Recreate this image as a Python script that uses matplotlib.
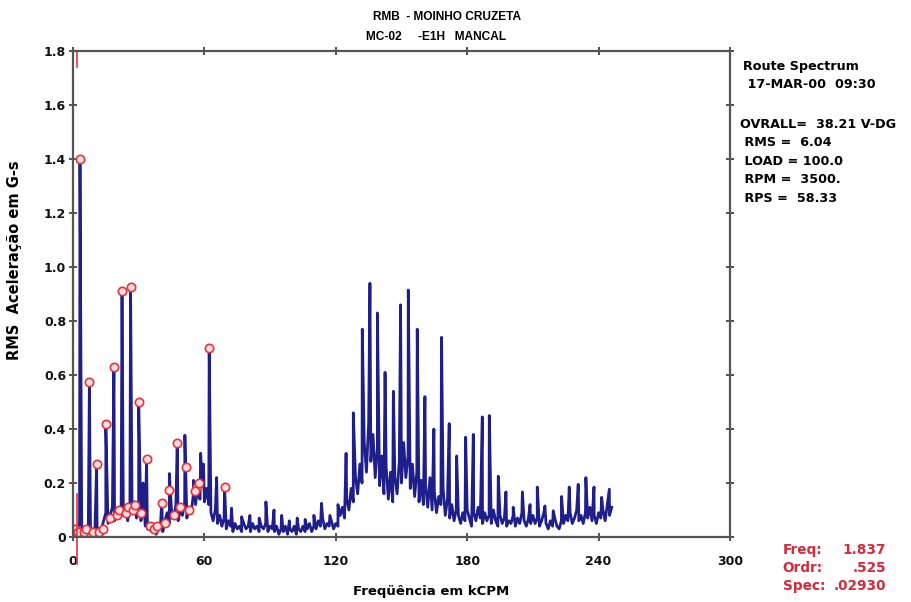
import numpy as np
import matplotlib
matplotlib.use("Agg")
import matplotlib.pyplot as plt

plt.rcParams['font.family'] = ['DejaVu Sans']
plt.rcParams['font.weight'] = 'bold'

# floor of the spectrum, one value per kCPM bin (0 .. 246)
floor_freq = np.arange(0, 247, 1.0)
floor_amp = [
    0.00, 0.04, 0.03, 0.05, 0.02, 0.03, 0.01, 0.04, 0.02, 0.03,
    0.02, 0.04, 0.01, 0.03, 0.06, 0.09, 0.05, 0.08, 0.11, 0.06,
    0.10, 0.07, 0.12, 0.08, 0.11, 0.06, 0.12, 0.09, 0.13, 0.07,
    0.11, 0.06, 0.09, 0.04, 0.03, 0.05, 0.02, 0.04, 0.01, 0.03,
    0.05, 0.02, 0.06, 0.09, 0.05, 0.10, 0.07, 0.12, 0.06, 0.10,
    0.08, 0.13, 0.07, 0.11, 0.09, 0.16, 0.12, 0.19, 0.14, 0.20,
    0.13, 0.18, 0.12, 0.09, 0.06, 0.10, 0.05, 0.08, 0.04, 0.07,
    0.03, 0.06, 0.04, 0.02, 0.05, 0.03, 0.04, 0.02, 0.05, 0.03,
    0.04, 0.02, 0.05, 0.03, 0.04, 0.02, 0.04, 0.03, 0.05, 0.02,
    0.04, 0.03, 0.02, 0.04, 0.01, 0.03, 0.02, 0.04, 0.01, 0.03,
    0.02, 0.04, 0.01, 0.03, 0.02, 0.04, 0.02, 0.03, 0.05, 0.02,
    0.04, 0.03, 0.06, 0.04, 0.07, 0.03, 0.05, 0.04, 0.06, 0.03,
    0.05, 0.04, 0.08, 0.11, 0.07, 0.14, 0.10, 0.18, 0.13, 0.22,
    0.16, 0.27, 0.20, 0.35, 0.24, 0.42, 0.28, 0.38, 0.22, 0.33,
    0.19, 0.30, 0.16, 0.26, 0.14, 0.24, 0.13, 0.22, 0.16, 0.28,
    0.20, 0.35, 0.22, 0.30, 0.18, 0.27, 0.15, 0.24, 0.13, 0.21,
    0.12, 0.19, 0.11, 0.22, 0.10, 0.17, 0.09, 0.15, 0.12, 0.18,
    0.08, 0.14, 0.07, 0.12, 0.06, 0.10, 0.08, 0.05, 0.09, 0.06,
    0.10, 0.07, 0.04, 0.09, 0.06, 0.11, 0.07, 0.05, 0.09, 0.06,
    0.08, 0.05, 0.10, 0.06, 0.04, 0.08, 0.05, 0.07, 0.04, 0.06,
    0.05, 0.08, 0.04, 0.07, 0.05, 0.09, 0.06, 0.04, 0.07, 0.05,
    0.08, 0.05, 0.07, 0.04, 0.06, 0.09, 0.05, 0.03, 0.06, 0.04,
    0.07, 0.04, 0.03, 0.06, 0.05, 0.08, 0.06, 0.09, 0.05, 0.07,
    0.10, 0.06, 0.08, 0.05, 0.09, 0.07, 0.11, 0.06, 0.08, 0.05,
    0.09, 0.07, 0.10, 0.06, 0.12, 0.08, 0.11,
]

# spectral peaks (kCPM, G-s)
peak_freq = [
    3.2, 7.5, 10.8, 15.0, 18.7, 22.4, 26.3, 30.0, 32.0, 33.6,
    40.5, 44.0, 47.6, 51.1, 55.0, 58.3, 59.6, 62.2, 65.6, 69.2,
    72.4, 77.0, 80.8, 85.0, 88.1, 91.8, 95.3, 98.8, 102.4, 106.0,
    110.0, 113.5, 117.3, 121.0, 124.7, 128.0, 132.1, 135.6, 139.0, 142.5,
    146.3, 149.6, 153.1, 157.2, 160.7, 164.8, 168.3, 171.8, 175.2, 179.3,
    182.8, 186.9, 190.1, 194.2, 197.7, 201.0, 205.2, 208.7, 212.0, 215.5,
    219.3, 223.1, 226.6, 230.7, 234.2, 237.9, 241.4, 244.9,
]
peak_amp = [
    1.40, 0.575, 0.27, 0.42, 0.63, 0.91, 0.925, 0.50, 0.20, 0.29,
    0.13, 0.235, 0.35, 0.377, 0.21, 0.31, 0.27, 0.70, 0.22, 0.19,
    0.107, 0.075, 0.08, 0.07, 0.13, 0.10, 0.08, 0.06, 0.07, 0.065,
    0.08, 0.125, 0.08, 0.12, 0.31, 0.46, 0.77, 0.94, 0.83, 0.61,
    0.54, 0.86, 0.915, 0.77, 0.52, 0.40, 0.74, 0.42, 0.30, 0.37,
    0.38, 0.445, 0.45, 0.225, 0.167, 0.11, 0.167, 0.12, 0.185, 0.115,
    0.097, 0.15, 0.185, 0.195, 0.22, 0.185, 0.147, 0.177,
]

# peak markers placed by the analyzer
mark_freq = [
    3.2, 7.5, 10.8, 15.0, 18.7, 22.4, 26.3, 30.0, 33.6, 47.6,
    51.6, 62.2, 69.2, 40.5, 43.8, 56.7,
    1.0, 2.5, 5.0, 6.0, 9.0, 12.0, 13.5, 17.0, 20.0, 21.0,
    24.0, 25.0, 27.5, 28.5, 31.0, 35.0, 37.0, 38.5, 42.0, 46.0,
    49.0, 53.0, 55.5, 57.5,
]
mark_amp = [
    1.40, 0.575, 0.27, 0.42, 0.63, 0.91, 0.925, 0.50, 0.29, 0.35,
    0.26, 0.70, 0.185, 0.125, 0.175, 0.185,
    0.03, 0.02, 0.02, 0.03, 0.02, 0.02, 0.03, 0.07, 0.08, 0.10,
    0.09, 0.11, 0.10, 0.12, 0.09, 0.04, 0.03, 0.04, 0.05, 0.08,
    0.11, 0.10, 0.17, 0.20,
]

cursor_freq = 1.837

header = ["Route Spectrum", " 17-MAR-00  09:30"]
stats = ["OVRALL=  38.21 V-DG", " RMS =  6.04", " LOAD = 100.0", " RPM =  3500.", " RPS =  58.33"]
cursor_labels = ["Freq:", "Ordr:", "Spec:"]
cursor_values = ["1.837", ".525", ".02930"]

freq = np.concatenate([floor_freq, peak_freq])
amp = np.concatenate([floor_amp, peak_amp])
order = np.argsort(freq, kind="stable")
freq = freq[order]
amp = amp[order]

fig = plt.figure(figsize=(9.11, 6.02), dpi=100)
ax = fig.add_axes([0.0801, 0.108, 0.7212, 0.807])

ax.plot(freq, amp, color="#1f1f8c", lw=2.0)
ax.plot(mark_freq, mark_amp, ls="none", marker="o", ms=6, mfc="#ffe0e0",
        mec="#e8323c", mew=1.2)
ax.plot([cursor_freq, cursor_freq], [-0.1, 0.16], color="#e8323c", lw=1.2, clip_on=False)
ax.plot([cursor_freq, cursor_freq], [1.74, 1.8], color="#e8323c", lw=1.2)

ax.set_xlim(0, 300)
ax.set_ylim(0, 1.8)
ax.set_xticks([0, 60, 120, 180, 240, 300])
ax.set_yticks([0, 0.2, 0.4, 0.6, 0.8, 1.0, 1.2, 1.4, 1.6, 1.8])
ax.set_yticklabels(["0", "0.2", "0.4", "0.6", "0.8", "1.0", "1.2", "1.4", "1.6", "1.8"])
ax.tick_params(axis="both", direction="inout", length=6, width=1.2, colors="#333333",
               labelcolor="#111111", labelsize=9, top=True, right=True)
ax.tick_params(axis="x", pad=10)
ax.tick_params(axis="y", pad=2)
for s in ax.spines.values():
    s.set_color("#555555")
    s.set_linewidth(1.6)

ax.set_xlabel("Freqüência em kCPM", fontsize=9.5, fontweight="bold")
ax.xaxis.set_label_coords(0.545, -0.098)
ax.set_ylabel("RMS  Aceleração em G-s", fontsize=10.5, fontweight="bold")
ax.yaxis.set_label_coords(-0.077, 0.57)

fig.text(0.491, 0.972, "RMB  - MOINHO CRUZETA", ha="center", va="center", fontsize=8.6,
         fontweight="bold", family="Liberation Sans")
fig.text(0.479, 0.938, "MC-02     -E1H   MANCAL", ha="center", va="center", fontsize=8.6,
         fontweight="bold", family="Liberation Sans")

y = 0.890
for t in header:
    fig.text(0.816, y, t, ha="left", va="center", fontsize=9.2, fontweight="bold")
    y -= 0.031
y = 0.794
for t in stats:
    fig.text(0.812, y, t, ha="left", va="center", fontsize=9.2, fontweight="bold")
    y -= 0.031

y = 0.087
for lab, val in zip(cursor_labels, cursor_values):
    fig.text(0.859, y, lab, ha="left", va="center", fontsize=9.8, fontweight="bold", color="#d42a3c")
    fig.text(0.973, y, val, ha="right", va="center", fontsize=9.8, fontweight="bold", color="#d42a3c")
    y -= 0.030

fig.savefig("out.png", dpi=100)
